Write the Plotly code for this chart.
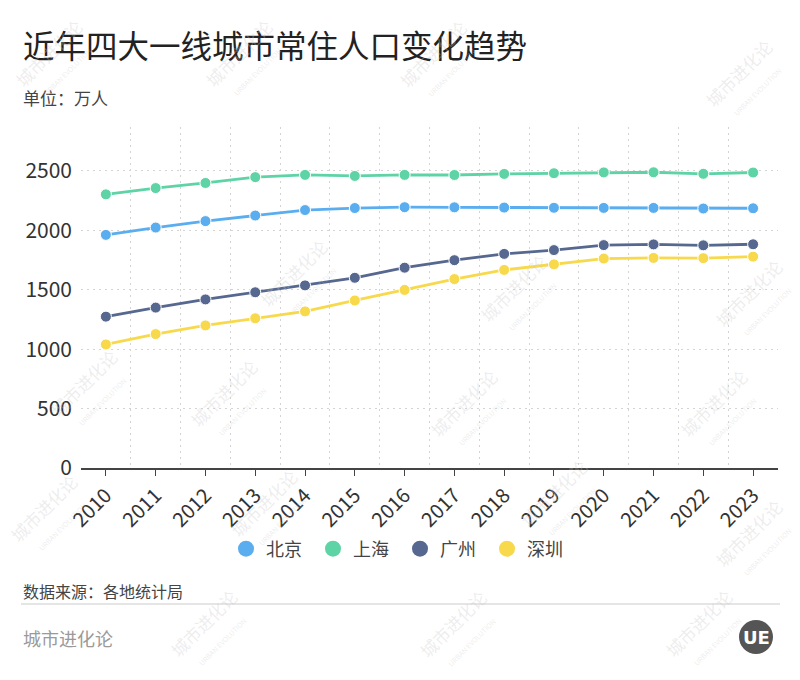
import plotly.graph_objects as go

years = list(range(2010, 2024))
year_labels = [str(y) for y in years]
cities = ["北京", "上海", "广州", "深圳"]
beijing = [1962, 2024, 2078, 2125, 2171, 2188, 2195, 2194, 2192, 2190, 2189, 2189, 2184, 2186]
shanghai = [2303, 2356, 2399, 2448, 2467, 2458, 2467, 2466, 2475, 2481, 2488, 2489, 2476, 2487]
guangzhou = [1274, 1350, 1419, 1479, 1537, 1601, 1686, 1749, 1802, 1834, 1876, 1882, 1874, 1883]
shenzhen = [1040, 1127, 1200, 1260, 1318, 1410, 1499, 1590, 1667, 1714, 1763, 1768, 1766, 1779]
series = [beijing, shanghai, guangzhou, shenzhen]
colors = ["#5AAEEF", "#5ED4A6", "#56688F", "#F8D94B"]
y_ticks = [0, 500, 1000, 1500, 2000, 2500]

W, H = 800, 680
L, R, T, B = 81, 778, 127, 468
PW, PH = R - L, B - T
FONT = "Noto Sans CJK SC"


def px(x):
    return (x - L) / PW


def py(y):
    return (B - y) / PH


fig = go.Figure()
for name, vals, c in zip(cities, series, colors):
    fig.add_trace(go.Scatter(
        x=years, y=vals, mode="lines+markers", name=name,
        line=dict(color=c, width=2.8),
        marker=dict(color=c, size=11, line=dict(color="white", width=1)),
        showlegend=False, hoverinfo="x+y+name"))
for name, c in zip(cities, colors):
    fig.add_trace(go.Scatter(
        x=[None], y=[None], mode="markers", name=name,
        marker=dict(color=c, size=16), showlegend=True))

annotations = [
    dict(x=px(21), y=py(44), text="近年四大一线城市常住人口变化趋势",
         font=dict(size=31.5, color="#222", family=FONT), xanchor="left", yanchor="middle"),
    dict(x=px(21), y=py(97), text="单位：万人",
         font=dict(size=17, color="#444", family=FONT), xanchor="left", yanchor="middle"),
    dict(x=px(21), y=py(591), text="数据来源：各地统计局",
         font=dict(size=16, color="#444", family=FONT), xanchor="left", yanchor="middle"),
    dict(x=px(21), y=py(638), text="城市进化论",
         font=dict(size=18, color="#9a9a9a", family=FONT), xanchor="left", yanchor="middle"),
    dict(x=px(756), y=py(637), text="<b>UE</b>",
         font=dict(size=18, color="white", family="DejaVu Sans"), xanchor="center", yanchor="middle"),
]

# watermarks
wm_pos = [(55, 60), (245, 60), (440, 60), (745, 80), (300, 280), (520, 295), (755, 300),
          (90, 390), (230, 400), (470, 410), (720, 410), (50, 515), (270, 510), (560, 500),
          (755, 540), (210, 630), (460, 630), (705, 630)]
for (wx, wy) in wm_pos:
    annotations.append(dict(
        x=px(wx), y=py(wy),
        text="城市进化论<br><span style='font-size:7px'>URBAN EVOLUTION</span>",
        textangle=-45, font=dict(size=17, color="rgba(200,200,200,0.33)", family=FONT),
        xanchor="center", yanchor="middle", showarrow=False))

for a in annotations:
    a.setdefault("showarrow", False)
    a["xref"] = "paper"
    a["yref"] = "paper"

shapes = [
    dict(type="line", xref="paper", yref="paper", x0=px(21), x1=px(780), y0=py(604), y1=py(604),
         line=dict(color="#dddddd", width=1.5)),
    dict(type="circle", xref="paper", yref="paper", x0=px(739), x1=px(773), y0=py(620), y1=py(654),
         fillcolor="#555555", line=dict(width=0)),
]

fig.update_layout(
    width=W, height=H,
    margin=dict(l=L, r=W - R, t=T, b=H - B, autoexpand=False),
    paper_bgcolor="white", plot_bgcolor="white",
    font=dict(family=FONT, color="#333"),
    annotations=annotations, shapes=shapes,
    legend=dict(orientation="h", xref="container", yref="container",
                x=0.5, xanchor="center", y=1 - 549 / H, yanchor="middle",
                font=dict(size=18, color="#444", family=FONT),
                itemclick=False, entrywidth=42, entrywidthmode="pixels"),
    xaxis=dict(
        range=[2009.5, 2023.5], tickmode="array", tickvals=years, ticktext=year_labels,
        tickangle=-45, tickfont=dict(size=20, color="#333"), automargin=False,
        showgrid=False, zeroline=False, showline=True, linecolor="#444", linewidth=1.5,
        ticks="outside", ticklen=6, tickcolor="#444", tickwidth=1,
        minor=dict(tickvals=[2009.5 + i for i in range(15)], showgrid=True,
                   gridcolor="#d4d4d4", griddash="2px,4px", gridwidth=1, ticks=""),
        fixedrange=True),
    yaxis=dict(
        range=[0, 2870], tickmode="array", tickvals=y_ticks, automargin=False,
        tickfont=dict(size=21, color="#333"), showgrid=True, gridcolor="#d4d4d4",
        griddash="2px,4px", gridwidth=1, zeroline=False, showline=False,
        ticklabelstandoff=8, fixedrange=True),
)

fig.write_html("out.html", post_script="document.body.style.margin='0';",
               config={"displayModeBar": False})
